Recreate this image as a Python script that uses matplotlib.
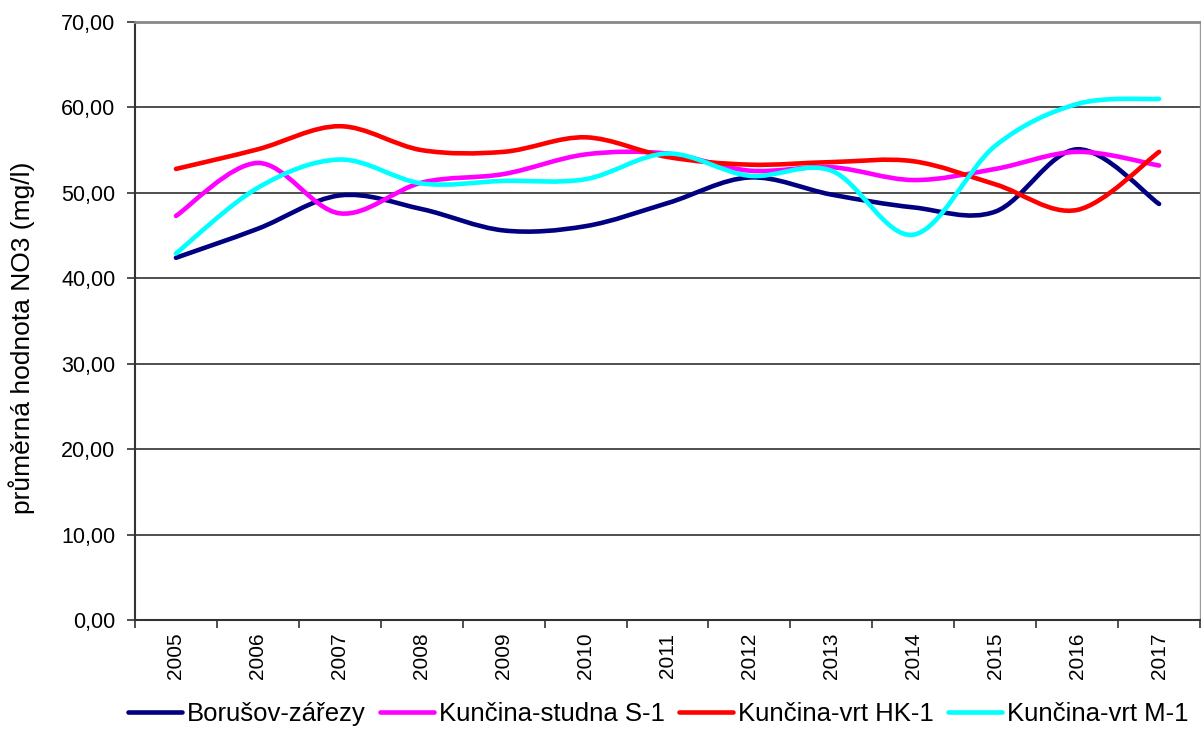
import matplotlib
matplotlib.use("Agg")
import matplotlib.pyplot as plt
from matplotlib.path import Path
from matplotlib.patches import PathPatch
from matplotlib.lines import Line2D
import numpy as np

plt.rcParams["font.family"] = ["Liberation Sans", "DejaVu Sans"]

years = [str(y) for y in range(2005, 2018)]
borusov = [42.4, 45.8, 49.7, 48.1, 45.6, 46.1, 48.8, 51.8, 49.8, 48.3, 47.8, 55.1, 48.7]
studna_s1 = [47.3, 53.5, 47.6, 51.2, 52.2, 54.5, 54.6, 52.6, 53.0, 51.5, 52.8, 54.8, 53.2]
vrt_hk1 = [52.8, 55.1, 57.8, 55.0, 54.8, 56.5, 54.2, 53.3, 53.6, 53.7, 51.0, 48.0, 54.8]
vrt_m1 = [42.9, 50.6, 53.9, 51.1, 51.4, 51.6, 54.6, 52.0, 52.6, 45.1, 55.5, 60.4, 61.0]

series = [
    ("Borušov-zářezy", borusov, "#000080"),
    ("Kunčina-studna S-1", studna_s1, "#FF00FF"),
    ("Kunčina-vrt HK-1", vrt_hk1, "#FF0000"),
    ("Kunčina-vrt M-1", vrt_m1, "#00FFFF"),
]


def smooth_path(xs, ys):
    # Catmull-Rom style bezier, similar to the spreadsheet "smoothed line"
    pts = np.column_stack([xs, ys]).astype(float)
    n = len(pts)
    verts = [pts[0]]
    codes = [Path.MOVETO]
    for i in range(n - 1):
        p0 = pts[i - 1] if i > 0 else pts[i]
        p1 = pts[i]
        p2 = pts[i + 1]
        p3 = pts[i + 2] if i + 2 < n else pts[i + 1]
        c1 = p1 + (p2 - p0) / 6.0
        c2 = p2 - (p3 - p1) / 6.0
        verts += [c1, c2, p2]
        codes += [Path.CURVE4] * 3
    return Path(verts, codes)


fig = plt.figure(figsize=(12.01, 7.53), dpi=100)
ax = fig.add_axes([0.1124, 0.1766, 0.8868, 0.7942])

x = np.arange(len(years))
handles = []
for name, vals, color in series:
    patch = PathPatch(smooth_path(x, vals), facecolor="none", edgecolor=color,
                      lw=3.3, capstyle="round", joinstyle="round", zorder=3)
    ax.add_patch(patch)
    handles.append(Line2D([], [], color=color, lw=3.3, solid_capstyle="round", label=name))

ax.set_xlim(-0.5, len(years) - 0.5)
ax.set_ylim(0, 70)

ax.set_yticks(np.arange(0, 71, 10))
ax.set_yticklabels([f"{v:.2f}".replace(".", ",") for v in np.arange(0, 71, 10)], fontsize=15.5)
ax.set_xticks(x)
ax.set_xticklabels(years, rotation=90, fontsize=15)
ax.set_xticks(np.arange(-0.5, len(years), 1), minor=True)
ax.tick_params(axis="x", which="major", length=0, pad=9)
ax.tick_params(axis="x", which="minor", length=6, width=1.2, color="#333333")
ax.tick_params(axis="y", length=6, width=1.2, color="#333333", pad=8)

for v in range(10, 70, 10):
    ax.axhline(v, color="#404040", lw=1.3, zorder=1)

ax.spines["left"].set_color("#333333")
ax.spines["left"].set_linewidth(1.5)
ax.spines["bottom"].set_color("#333333")
ax.spines["bottom"].set_linewidth(1.5)
ax.spines["top"].set_color("#888888")
ax.spines["top"].set_linewidth(2)
ax.spines["right"].set_color("#999999")
ax.spines["right"].set_linewidth(1)

ax.set_ylabel("průměrná hodnota NO3 (mg/l)", fontsize=19)
ax.yaxis.set_label_coords(-0.094, 0.472)

fig.legend(handles=handles, loc="center", bbox_to_anchor=(0.548, 0.052), ncol=4,
           frameon=False, fontsize=18.5, handlelength=2.1, handletextpad=0.2,
           columnspacing=0.55, borderaxespad=0)

fig.savefig("out.png", dpi=100)
